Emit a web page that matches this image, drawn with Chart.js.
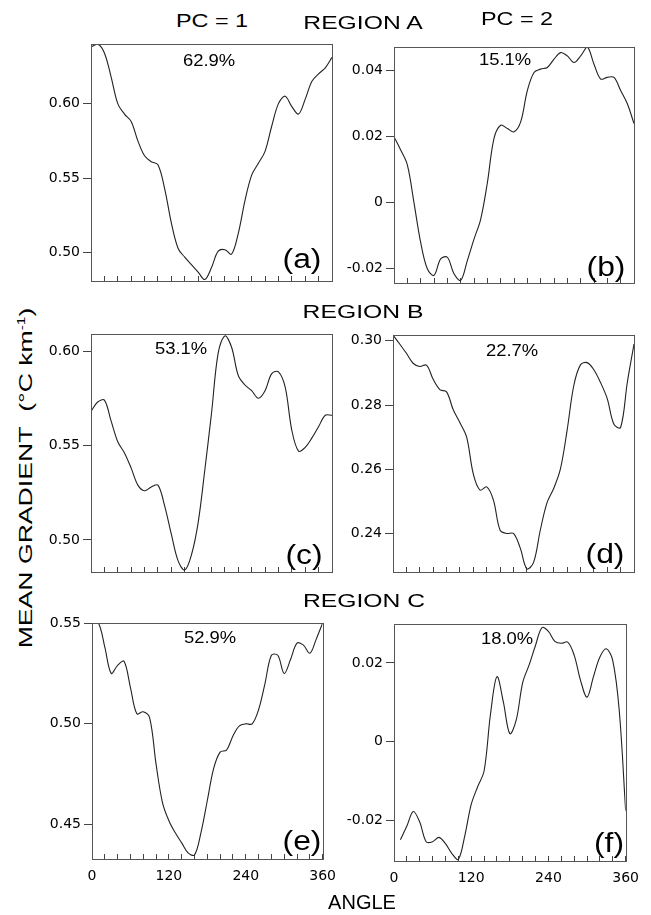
<!DOCTYPE html>
<html>
<head>
<meta charset="utf-8">
<script src="https://cdn.jsdelivr.net/npm/chart.js@4.4.0/dist/chart.umd.min.js"></script>
<style>
  body { margin: 0; background: #fff; width: 651px; height: 915px; position: relative; overflow: hidden;
         font-family: "Liberation Sans", Arial, sans-serif; color: #000; }
  canvas { position: absolute; }
  .t { position: absolute; white-space: nowrap; line-height: 1; transform-origin: center center; }
</style>
</head>
<body>

<canvas id="pa"></canvas>
<canvas id="pb"></canvas>
<canvas id="pc"></canvas>
<canvas id="pd"></canvas>
<canvas id="pe"></canvas>
<canvas id="pf"></canvas>

<script>
// angle (deg) along x, every 10 degrees
var angles = [0,10,20,30,40,50,60,70,80,90,100,110,120,130,140,150,160,170,180,
              190,200,210,220,230,240,250,260,270,280,290,300,310,320,330,340,350,360];

// region A
var regionA_pc1 = [0.638,0.640,0.634,0.618,0.600,0.593,0.588,0.575,0.565,0.561,0.559,0.543,0.520,
                   0.503,0.497,0.492,0.487,0.482,0.490,0.501,0.502,0.499,0.513,0.535,0.552,0.560,
                   0.568,0.585,0.600,0.605,0.598,0.593,0.603,0.615,0.620,0.624,0.631];
var regionA_pc2 = [0.0200,0.0160,0.0115,0.0000,-0.0120,-0.0200,-0.0220,-0.0170,-0.0165,-0.0215,
                   -0.0235,-0.0175,-0.0110,-0.0050,0.0060,0.0195,0.0235,0.0225,0.0215,0.0245,
                   0.0340,0.0395,0.0405,0.0410,0.0435,0.0455,0.0445,0.0425,0.0445,0.0472,
                   0.0420,0.0375,0.0380,0.0380,0.0340,0.0300,0.0240];
// region B
var regionB_pc1 = [0.568,0.573,0.574,0.563,0.552,0.546,0.538,0.529,0.526,0.528,0.529,0.518,0.503,
                   0.489,0.484,0.492,0.509,0.537,0.567,0.599,0.608,0.602,0.587,0.582,0.579,0.575,
                   0.579,0.588,0.589,0.581,0.558,0.547,0.549,0.554,0.560,0.566,0.566];
var regionB_pc2 = [0.3018,0.2990,0.2961,0.2930,0.2920,0.2924,0.2880,0.2848,0.2841,0.2785,0.2745,
                   0.2700,0.2585,0.2535,0.2545,0.2504,0.2410,0.2400,0.2400,0.2355,0.2290,0.2310,
                   0.2410,0.2495,0.2540,0.2600,0.2720,0.2860,0.2925,0.2932,0.2910,0.2870,0.2820,
                   0.2740,0.2730,0.2870,0.2990];
// region C (PC 2 curve starts just after 0 in the original)
var regionC_pc1 = [0.550,0.550,0.538,0.525,0.529,0.531,0.518,0.505,0.506,0.503,0.480,0.461,0.452,
                   0.446,0.441,0.436,0.435,0.446,0.462,0.478,0.486,0.487,0.494,0.499,0.500,0.500,
                   0.507,0.520,0.534,0.534,0.525,0.532,0.540,0.539,0.535,0.542,0.550];
var regionC_pc2 = [null,-0.0250,-0.0215,-0.0178,-0.0205,-0.0255,-0.0255,-0.0244,-0.0260,-0.0285,
                   -0.0300,-0.0240,-0.0160,-0.0115,-0.0075,0.0070,0.0165,0.0100,0.0020,0.0055,
                   0.0150,0.0195,0.0245,0.0290,0.0280,0.0255,0.0250,0.0253,0.0220,0.0155,
                   0.0113,0.0165,0.0215,0.0236,0.0206,0.0080,-0.0176];

// tick values
var xTicks = [0,20,40,60,80,100,120,140,160,180,200,220,240,260,280,300,320,340,360];
var xLabels = [0,120,240,360];
var ticksA1 = [0.50, 0.55, 0.60];
var ticksA2 = [-0.02, 0, 0.02, 0.04];
var ticksB1 = [0.50, 0.55, 0.60];
var ticksB2 = [0.24, 0.26, 0.28, 0.30];
var ticksC1 = [0.45, 0.50, 0.55];
var ticksC2 = [-0.02, 0, 0.02];

var percents = ['62.9%', '15.1%', '53.1%', '22.7%', '52.9%', '18.0%'];
var letters = ['(a)', '(b)', '(c)', '(d)', '(e)', '(f)'];
var regions = ['REGION A', 'REGION B', 'REGION C'];

var AXW = 55, PADT = 12, PADR = 18, XH = 30;
var tickFont = {family: '"DejaVu Sans", sans-serif', size: 14};

const framePlugin = {
  id: 'frame',
  afterDraw(chart) {
    const a = chart.chartArea, ctx = chart.ctx;
    ctx.save();
    ctx.strokeStyle = '#555';
    ctx.lineWidth = 1;
    ctx.strokeRect(Math.round(a.left) + 0.5, Math.round(a.top) + 0.5,
                   Math.round(a.right - a.left), Math.round(a.bottom - a.top));
    ctx.restore();
  }
};

function fmt(v) {
  if (Math.abs(v) < 1e-9) return '0';
  return v.toFixed(2);
}

function panel(id, values, yTicks, yMin, yMax, showX, box) {
  var cv = document.getElementById(id);
  cv.width = box.r - box.l + AXW + PADR;
  cv.height = box.b - box.t + PADT + XH;
  cv.style.left = (box.l - AXW) + 'px';
  cv.style.top = (box.t - PADT) + 'px';

  return new Chart(cv, {
    type: 'line',
    data: {
      datasets: [{
        data: angles.map((a, i) => ({x: a, y: values[i]})),
        borderColor: '#222',
        borderWidth: 1.1,
        pointRadius: 0,
        tension: 0.35,
        fill: false
      }]
    },
    options: {
      responsive: false,
      animation: false,
      layout: {padding: {top: PADT, right: PADR, left: 0, bottom: 0}},
      plugins: {legend: {display: false}, tooltip: {enabled: false}},
      scales: {
        x: {
          type: 'linear', min: 0, max: 360,
          afterBuildTicks: s => { s.ticks = xTicks.map(v => ({value: v})); },
          afterFit: s => { s.height = XH; },
          border: {display: false},
          grid: {drawOnChartArea: false, drawTicks: true, tickLength: -5, color: '#444'},
          ticks: {
            autoSkip: false, maxRotation: 0, padding: 14, color: '#000', font: tickFont,
            callback: v => (showX && xLabels.indexOf(v) >= 0) ? String(v) : ''
          }
        },
        y: {
          min: yMin, max: yMax,
          afterBuildTicks: s => { s.ticks = yTicks.map(v => ({value: v})); },
          afterFit: s => { s.width = AXW; },
          border: {display: false},
          grid: {drawOnChartArea: false, drawTicks: true, tickLength: 8, color: '#444'},
          ticks: {padding: 3, color: '#000', font: tickFont, callback: v => fmt(v)}
        }
      }
    },
    plugins: [framePlugin]
  });
}

panel('pa', regionA_pc1, ticksA1, 0.481, 0.640, false, {l: 91, t: 44, r: 332, b: 281});
panel('pb', regionA_pc2, ticksA2, -0.0243, 0.0472, false, {l: 394, t: 47, r: 634, b: 283});
panel('pc', regionB_pc1, ticksB1, 0.483, 0.609, false, {l: 91, t: 334, r: 332, b: 572});
panel('pd', regionB_pc2, ticksB2, 0.228, 0.3018, false, {l: 393, t: 335, r: 634, b: 572});
panel('pe', regionC_pc1, ticksC1, 0.433, 0.550, true, {l: 92, t: 623, r: 332, b: 859});
panel('pf', regionC_pc2, ticksC2, -0.0304, 0.0299, true, {l: 394, t: 624, r: 635, b: 861});

// text labels
function label(text, x, y, size, sx, rot) {
  var d = document.createElement('div');
  d.className = 't';
  d.innerHTML = text;
  d.style.left = x + 'px';
  d.style.top = y + 'px';
  d.style.fontSize = size + 'px';
  d.style.transform = 'translate(-50%,-50%)' + (rot ? ' rotate(' + rot + 'deg)' : '') + ' scaleX(' + sx + ')';
  document.body.appendChild(d);
}

label('PC = 1', 212, 21, 18, 1.3);
label('PC = 2', 517, 19, 18, 1.3);
label(regions[0], 363, 22, 19, 1.3);
label(regions[1], 363, 311, 19, 1.3);
label(regions[2], 364, 600, 19, 1.3);

var pctPos = [[209, 61], [505, 60], [181, 349], [512, 351], [210, 638], [507, 639]];
var letPos = [[302, 259], [606, 267], [304, 555], [605, 554], [302, 841], [609, 843]];
for (var i = 0; i < 6; i++) {
  label(percents[i], pctPos[i][0], pctPos[i][1], 16, 1.15);
  label(letters[i], letPos[i][0], letPos[i][1], 27, 1.18);
}

label('ANGLE', 362, 902, 20, 1.0);
label('MEAN GRADIENT&nbsp;&nbsp;(°C km<sup style="font-size:11px;vertical-align:7px">-1</sup>)', 25, 478, 19, 1.4, -90);
</script>
</body>
</html>
